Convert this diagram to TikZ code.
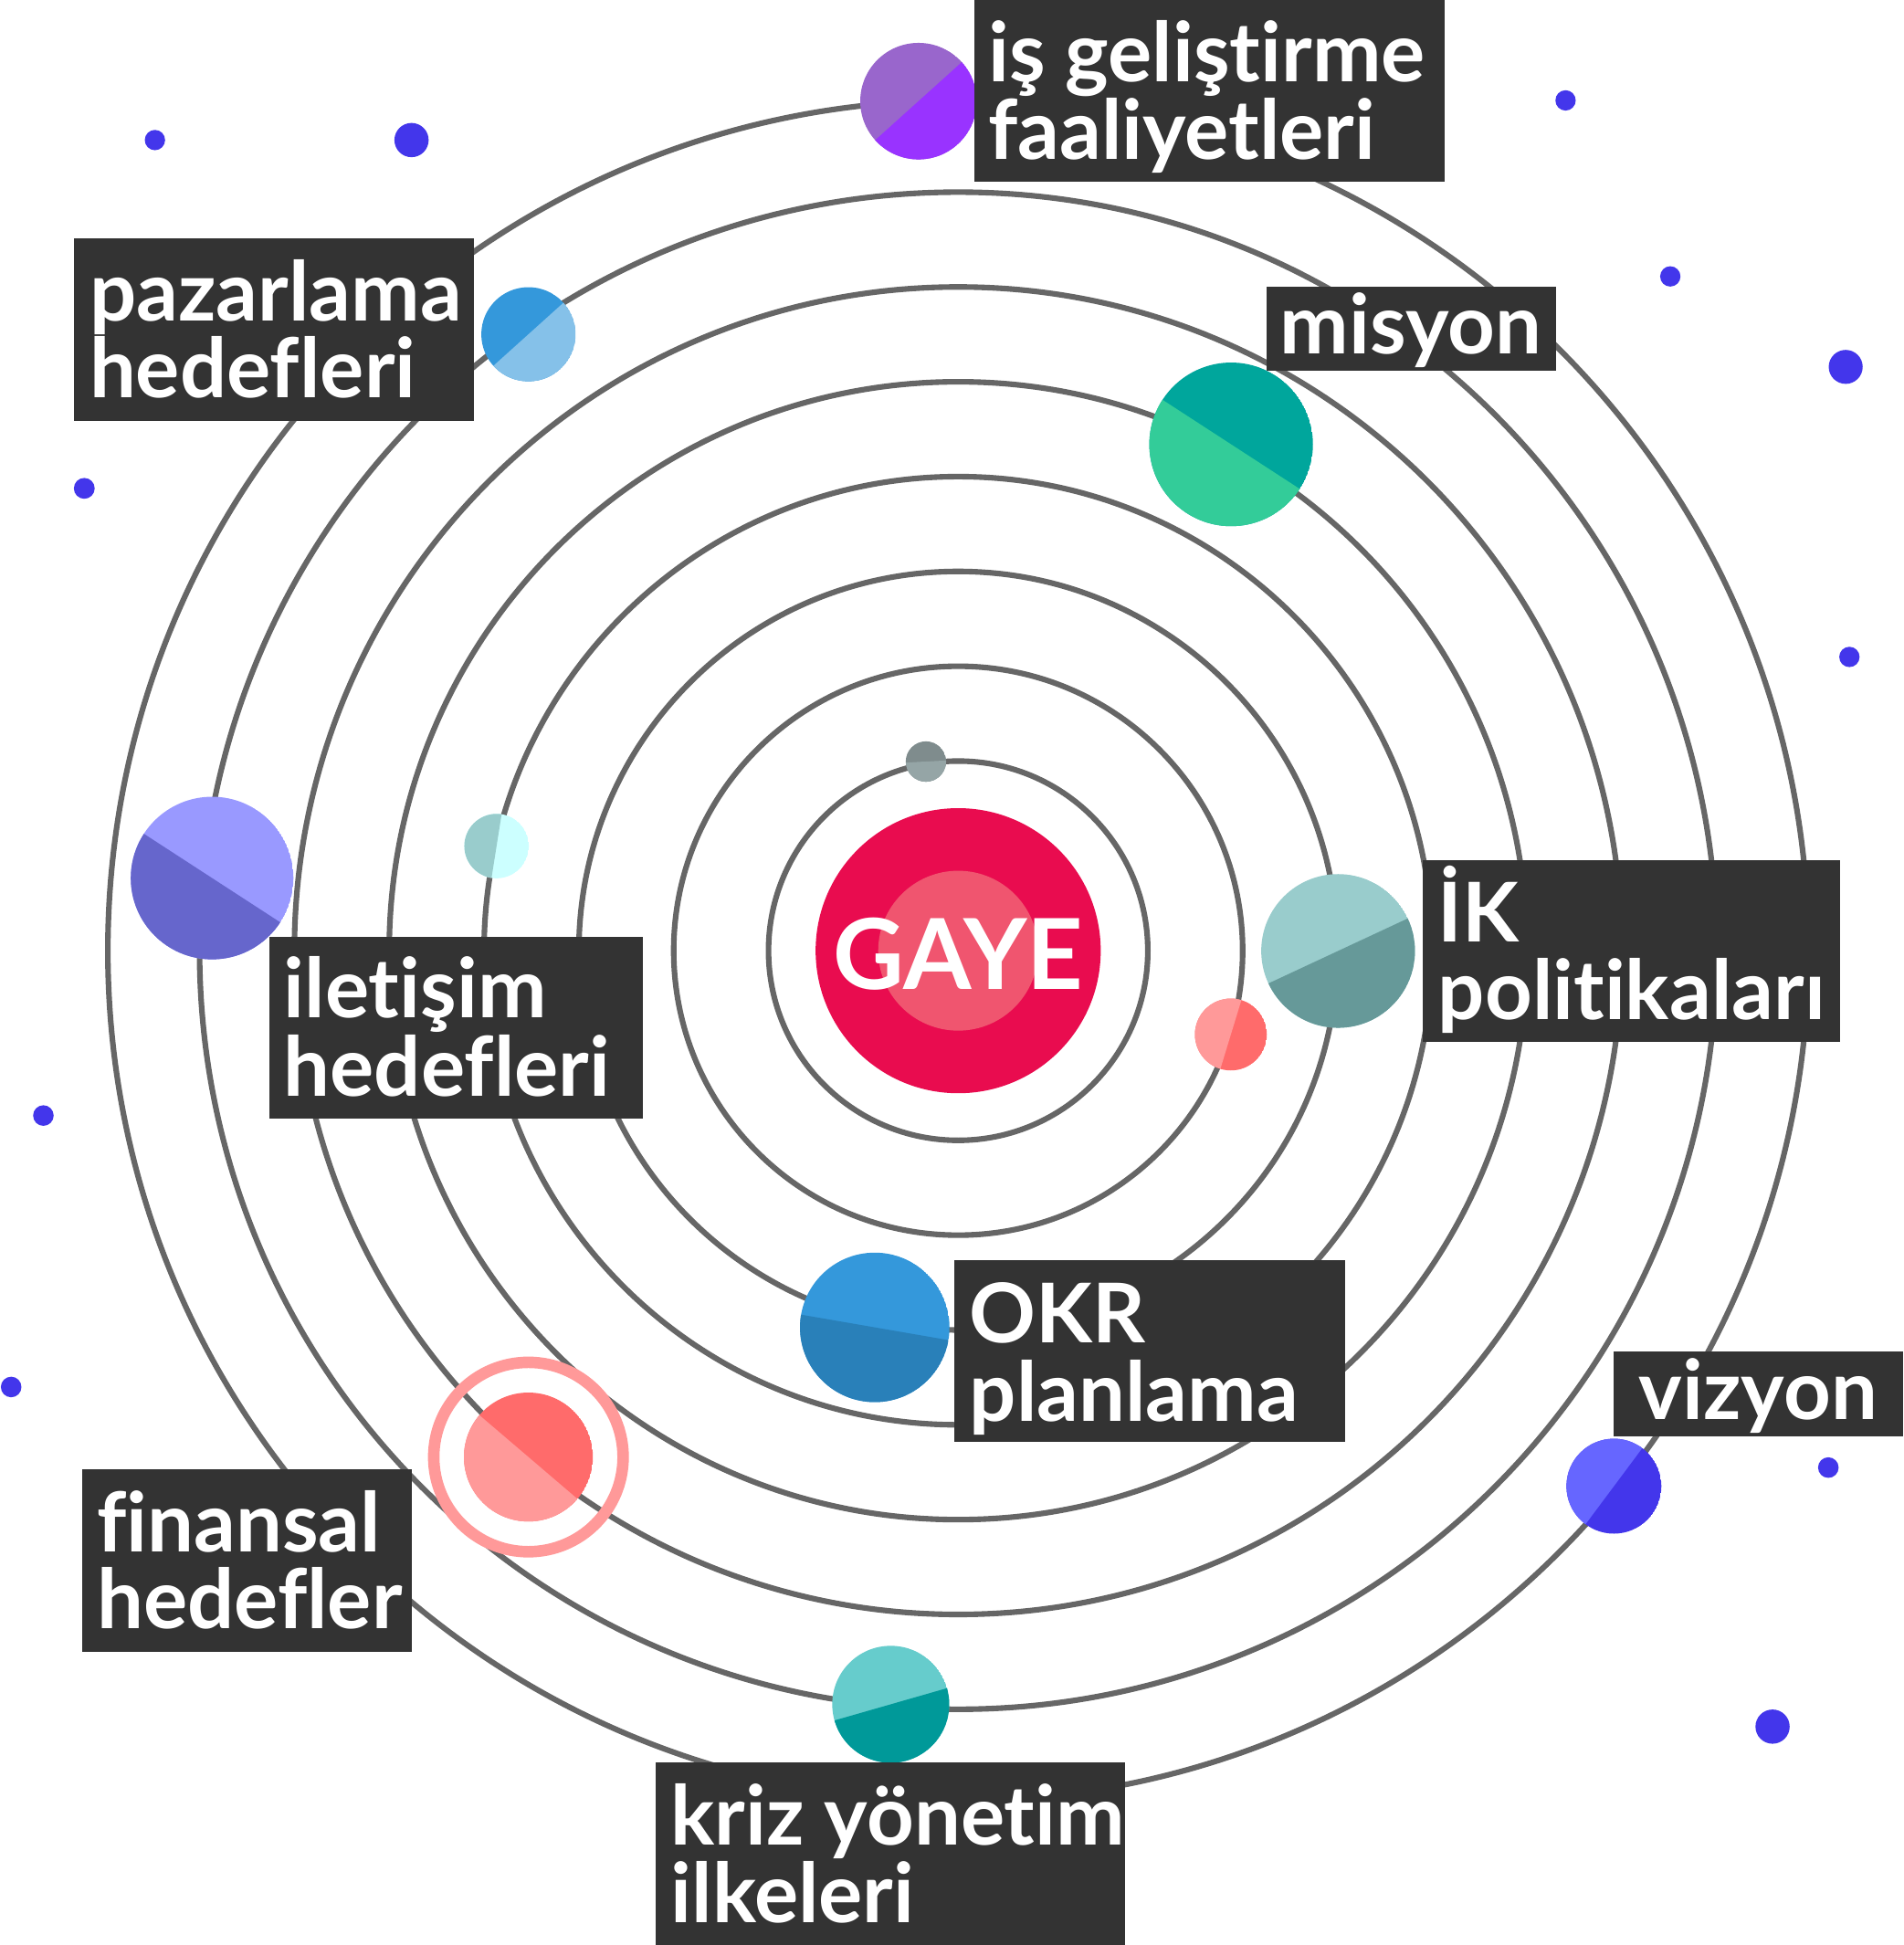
\documentclass[tikz,border=0pt]{standalone}
\usepackage{fontspec}
\setmainfont{Lato}[Ligatures={NoCommon,NoContextual}]
\usetikzlibrary{calc}
\definecolor{orbitc}{HTML}{666666}
\definecolor{boxc}{HTML}{333333}
\definecolor{dotc}{HTML}{4336EB}
\definecolor{gayeout}{HTML}{E90C4F}
\definecolor{gayein}{HTML}{F0556F}
\definecolor{ringc}{HTML}{FF9999}
\definecolor{isA}{HTML}{9966CC}\definecolor{isB}{HTML}{9933FF}
\definecolor{pzA}{HTML}{3498DB}\definecolor{pzB}{HTML}{85C1E9}
\definecolor{msA}{HTML}{00A69C}\definecolor{msB}{HTML}{33CC99}
\definecolor{ikA}{HTML}{99CCCC}\definecolor{ikB}{HTML}{669999}
\definecolor{slA}{HTML}{FF6B6B}\definecolor{slB}{HTML}{FF9999}
\definecolor{gyA}{HTML}{7F8C8D}\definecolor{gyB}{HTML}{95A5A6}
\definecolor{cyA}{HTML}{CCFFFF}\definecolor{cyB}{HTML}{99CCCC}
\definecolor{pbA}{HTML}{9999FF}\definecolor{pbB}{HTML}{6666CC}
\definecolor{okA}{HTML}{3498DB}\definecolor{okB}{HTML}{2980B9}
\definecolor{fnA}{HTML}{FF6B6B}\definecolor{fnB}{HTML}{FF9999}
\definecolor{krA}{HTML}{66CCCC}\definecolor{krB}{HTML}{009999}
\definecolor{vzA}{HTML}{4336EB}\definecolor{vzB}{HTML}{6666FF}
% #1 name, #2 x,y, #3 radius, #4 split angle, #5 colour A, #6 colour B
\newcommand{\myplanet}[6]{%
  \coordinate (#1) at (#2);
  \begin{scope}
    \clip (#1) circle[radius=#3pt];
    \fill[#5] (#1) circle[radius=#3pt];
    \fill[#6] ($(#1)+({#4}:{2*#3})$) -- ($(#1)+({#4+90}:{2*#3})$) -- ($(#1)+({#4+180}:{2*#3})$) -- cycle;
  \end{scope}}
\begin{document}
\begin{tikzpicture}[x=1pt,y=-1pt,
  orbit/.style={draw=orbitc, line width=4.5pt},
  lblbox/.style={fill=boxc, draw=none, inner sep=0pt, outer sep=0pt, anchor=north west},
  lbltext/.style={text=white, font=\bfseries\fontsize{66.5}{66.5}\selectfont, inner sep=0pt, anchor=base west},
  stardot/.style={fill=dotc}]
\fill[white] (0,0) rectangle (1536,1569.2);
\useasboundingbox (0,0) rectangle (1536,1569.2);
\coordinate (c) at (773,767);
% orbits
\foreach \r in {153,229.5,306,382.5,459,535.5,612,686}
  \draw[orbit] (c) circle[radius=\r pt];
% background dots
\fill[stardot] (125,113) circle[radius=8.2pt];
\fill[stardot] (332,113) circle[radius=13.8pt];
\fill[stardot] (68,394) circle[radius=8.4pt];
\fill[stardot] (35,900) circle[radius=8.3pt];
\fill[stardot] (9,1119) circle[radius=8.3pt];
\fill[stardot] (1263,81) circle[radius=8.2pt];
\fill[stardot] (1347.5,223) circle[radius=8.2pt];
\fill[stardot] (1489,296) circle[radius=13.7pt];
\fill[stardot] (1492,530) circle[radius=8.2pt];
\fill[stardot] (1475,1184) circle[radius=8.3pt];
\fill[stardot] (1430,1393) circle[radius=13.8pt];
% sun
\fill[gayeout] (c) circle[radius=115pt];
\fill[gayein] (c) circle[radius=64.5pt];
\node[text=white, font=\bfseries\fontsize{79}{79}\selectfont, inner sep=0pt, anchor=base] (gaye) at (773,798) {GAYE};
% planets
\myplanet{pis}{741,81.6}{47}{318}{isA}{isB}
\myplanet{ppz}{426.3,269.7}{38}{318}{pzA}{pzB}
\myplanet{pms}{993.2,358.5}{66}{33}{msA}{msB}
\myplanet{pik}{1079.5,767.2}{62}{335}{ikA}{ikB}
\myplanet{psl}{993,834.6}{29}{107}{slA}{slB}
\myplanet{pgy}{747,614.4}{16.3}{357}{gyA}{gyB}
\myplanet{pcy}{400.6,682.6}{26}{99}{cyA}{cyB}
\myplanet{ppb}{171.1,708.4}{65.6}{33}{pbA}{pbB}
\myplanet{pok}{705.7,1070.9}{60.3}{9.8}{okA}{okB}
\myplanet{pfn}{426.3,1175.5}{52}{40.5}{fnA}{fnB}
\draw[ringc, line width=9.3pt] (pfn) circle[radius=76.4pt];
\myplanet{pkr}{718.6,1375}{47.2}{344}{krA}{krB}
\myplanet{pvz}{1302,1199}{38.3}{126.7}{vzA}{vzB}
% labels
\node[lblbox, minimum width=379.2pt, minimum height=146.9pt] (bis) at (786.3,0) {};
\node[lbltext] (tis1) at (797,65.8) {iş geliştirme};
\node[lbltext] (tis2) at (797,128.9) {faaliyetleri};

\node[lblbox, minimum width=322.5pt, minimum height=146.9pt] (bpz) at (59.5,192.5) {};
\node[lbltext] (tpz1) at (72,259) {pazarlama};
\node[lbltext] (tpz2) at (72,321.2) {hedefleri};

\node[lblbox, minimum width=233.4pt, minimum height=67.7pt] (bms) at (1022,231.6) {};
\node[lbltext] (tms) at (1032.5,285.7) {misyon};

\node[lblbox, minimum width=337pt, minimum height=146.8pt] (bik) at (1147.5,693.8) {};
\node[lbltext] (tik1) at (1160,760.2) {İK};
\node[lbltext] (tik2) at (1160,822.4) {politikaları};

\node[lblbox, minimum width=301pt, minimum height=146.9pt] (bil) at (217.5,755.5) {};
\node[lbltext] (til1) at (228.7,821.4) {iletişim};
\node[lbltext] (til2) at (228.7,884.7) {hedefleri};

\node[lblbox, minimum width=315.8pt, minimum height=146.6pt] (bok) at (769.7,1017) {};
\node[lbltext] (tok1) at (782,1083.2) {OKR};
\node[lbltext] (tok2) at (782,1146.8) {planlama};

\node[lblbox, minimum width=234pt, minimum height=68.8pt] (bvz) at (1301.4,1090.2) {};
\node[lbltext] (tvz) at (1322,1145.5) {vizyon};

\node[lblbox, minimum width=266pt, minimum height=146.8pt] (bfn) at (66.2,1185.6) {};
\node[lbltext] (tfn1) at (78,1251.8) {finansal};
\node[lbltext] (tfn2) at (78,1314.2) {hedefler};

\node[lblbox, minimum width=378.8pt, minimum height=147pt] (bkr) at (529,1422.2) {};
\node[lbltext] (tkr1) at (541,1488.5) {kriz yönetim};
\node[lbltext] (tkr2) at (541,1550.9) {ilkeleri};
\end{tikzpicture}
\end{document}
